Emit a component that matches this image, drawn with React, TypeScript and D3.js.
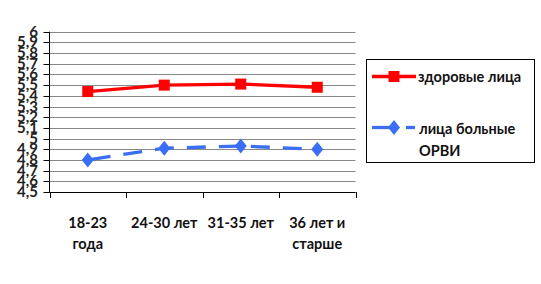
import React from "react";
import * as d3 from "d3";

const categories = [["18-23", "года"], ["24-30 лет"], ["31-35 лет"], ["36 лет и", "старше"]];
const healthy = [5.44, 5.5, 5.51, 5.48];
const sick = [4.8, 4.91, 4.93, 4.9];
const yTicks = [4.5, 4.6, 4.7, 4.8, 4.9, 5.0, 5.1, 5.2, 5.3, 5.4, 5.5, 5.6, 5.7, 5.8, 5.9, 6];
const seriesNames = ["здоровые лица", ["лица больные", "ОРВИ"]];

const W = 541, H = 284;
const left = 49.5, right = 355.5, top = 31.7, bottom = 192;
const font = "Lato, 'Open Sans', sans-serif";

export default function App() {
  const x = d3.scaleBand<number>().domain(d3.range(categories.length)).range([left, right]);
  const y = d3.scaleLinear().domain([4.5, 6]).range([bottom, top]);
  const cx = (i: number) => (x(i) as number) + x.bandwidth() / 2;
  const line = d3.line<number>().x((_, i) => cx(i)).y((d) => y(d));
  const fmt = (v: number) => (Number.isInteger(v) ? String(v) : v.toFixed(1).replace(".", ","));
  const diamond = (px: number, py: number, w = 6, h = 7.5) =>
    `M${px},${py - h}L${px + w},${py}L${px},${py + h}L${px - w},${py}Z`;

  return (
    <svg width={W} height={H} style={{ position: "absolute", left: 0, top: 0, background: "#fff" }}>
      {yTicks.map((t) => (
        <g key={t}>
          <line x1={left} x2={right} y1={Math.round(y(t)) + 0.5} y2={Math.round(y(t)) + 0.5} stroke="#888" strokeWidth={1} />
          <line x1={left - 6} x2={left} y1={Math.round(y(t)) + 0.5} y2={Math.round(y(t)) + 0.5} stroke="#000" strokeWidth={1} />
          <text x={38} y={y(t) + 5} textAnchor="end" fontFamily={font} fontWeight="bold" fontSize={15} fill="#222">
            {fmt(t)}
          </text>
        </g>
      ))}
      <line x1={left} x2={left} y1={top} y2={bottom + 0.5} stroke="#000" strokeWidth={1} />
      <line x1={left} x2={right} y1={bottom + 0.5} y2={bottom + 0.5} stroke="#000" strokeWidth={1} />
      {d3.range(categories.length + 1).map((i) => {
        const px = Math.round(left + i * x.bandwidth()) + 0.5;
        return <line key={i} x1={px} x2={px} y1={bottom} y2={bottom + 6} stroke="#000" strokeWidth={1} />;
      })}
      {categories.map((c, i) => (
        <text key={i} textAnchor="middle" fontFamily={font} fontWeight="bold" fontSize={14.5} fill="#111">
          {c.map((s, j) => (
            <tspan key={j} x={cx(i)} y={228 + j * 21}>{s}</tspan>
          ))}
        </text>
      ))}
      <path d={line(healthy) || ""} fill="none" stroke="#FF0000" strokeWidth={3.3} />
      {healthy.map((v, i) => (
        <rect key={i} x={cx(i) - 5.5} y={y(v) - 5.5} width={11} height={11} fill="#FF0000" />
      ))}
      <path d={line(sick) || ""} fill="none" stroke="#3A6EF5" strokeWidth={3.3} strokeDasharray="19,13" strokeDashoffset={-4} />
      {sick.map((v, i) => (
        <path key={i} d={diamond(cx(i), y(v))} fill="#3A6EF5" />
      ))}
      <rect x={366.5} y={59.5} width={168} height={103} fill="#fff" stroke="#000" strokeWidth={1} />
      <line x1={372} x2={416} y1={76.5} y2={76.5} stroke="#FF0000" strokeWidth={3.3} />
      <rect x={388.5} y={71} width={11} height={11} fill="#FF0000" />
      <text x={418} y={82} fontFamily={font} fontWeight="bold" fontSize={14.5} fill="#111">{seriesNames[0] as string}</text>
      <line x1={372} x2={398} y1={127.5} y2={127.5} stroke="#3A6EF5" strokeWidth={3.3} />
      <line x1={406} x2={415} y1={127.5} y2={127.5} stroke="#3A6EF5" strokeWidth={3.3} />
      <path d={diamond(394, 127.5)} fill="#3A6EF5" />
      <text fontFamily={font} fontWeight="bold" fontSize={14.5} fill="#111">
        {(seriesNames[1] as string[]).map((s, j) => (
          <tspan key={j} x={419} y={134 + j * 22}>{s}</tspan>
        ))}
      </text>
    </svg>
  );
}
